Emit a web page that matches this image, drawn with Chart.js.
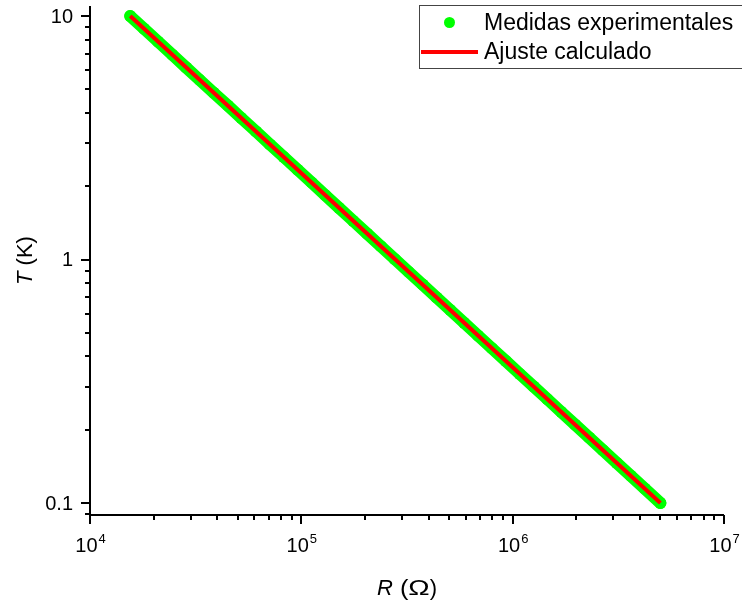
<!DOCTYPE html>
<html>
<head>
<meta charset="utf-8">
<script src="https://cdn.jsdelivr.net/npm/chart.js@4.4.1/dist/chart.umd.min.js"></script>
<style>
  html, body { margin: 0; padding: 0; background: #fff; overflow: hidden; }
  canvas { display: block; }
</style>
</head>
<body>
<canvas id="chart" width="742" height="608"></canvas>
<script>
// --- Data ---
const resistance = [15500, 18000, 21000, 24500, 28500, 33000, 38500, 45000, 52000, 61000,
  71000, 82500, 96000, 112000, 130000, 151000, 176000, 205000, 238000, 277000,
  322000, 375000, 436000, 507000, 590000, 686000, 798000, 928000, 1080000, 1256000,
  1460000, 1700000, 1977000, 2300000, 2675000, 3110000, 3620000, 4210000, 5000000];
const temperature = [10.0, 8.88, 7.85, 6.94, 6.15, 5.47, 4.84, 4.28, 3.81, 3.36,
  2.97, 2.64, 2.34, 2.07, 1.835, 1.628, 1.441, 1.276, 1.133, 1.004,
  0.890, 0.789, 0.699, 0.620, 0.549, 0.487, 0.432, 0.383, 0.339, 0.301,
  0.267, 0.2363, 0.2096, 0.1858, 0.1647, 0.1460, 0.1294, 0.1147, 0.100];
const fitResistance = [15500, 5000000];
const fitTemperature = [10.0, 0.100];

const seriesNames = ['Medidas experimentales', 'Ajuste calculado'];

const xMajorTicks = [1e4, 1e5, 1e6, 1e7];
const xExponents = ['4', '5', '6', '7'];
const xMinorTicks = [2e4, 3e4, 4e4, 5e4, 6e4, 7e4, 8e4, 9e4,
  2e5, 3e5, 4e5, 5e5, 6e5, 7e5, 8e5, 9e5,
  2e6, 3e6, 4e6, 5e6, 6e6, 7e6, 8e6, 9e6];
const yMajorTicks = [0.1, 1, 10];
const yTickLabels = ['0.1', '1', '10'];
const yMinorTicks = [0.09, 0.2, 0.3, 0.4, 0.5, 0.6, 0.7, 0.8, 0.9,
  2, 3, 4, 5, 6, 7, 8, 9];

const FONT = "'Liberation Sans', Arial, sans-serif";
const GREEN = '#00ff00';
const RED = '#ff0000';

// --- Axes, ticks, titles and legend drawn on top of the chart ---
const decorations = {
  id: 'decorations',
  afterDraw(chart) {
    const ctx = chart.ctx;
    const xs = chart.scales.x, ys = chart.scales.y;
    const area = chart.chartArea;
    ctx.save();
    ctx.strokeStyle = '#000';
    ctx.fillStyle = '#000';
    ctx.lineWidth = 2;

    // axis lines
    ctx.beginPath();
    ctx.moveTo(area.left, area.top);
    ctx.lineTo(area.left, area.bottom);
    ctx.lineTo(area.right, area.bottom);
    ctx.stroke();

    // tick marks (outward)
    const xTick = (v, len) => {
      const px = Math.round(xs.getPixelForValue(v));
      ctx.beginPath(); ctx.moveTo(px, area.bottom); ctx.lineTo(px, area.bottom + len); ctx.stroke();
    };
    const yTick = (v, len) => {
      const py = Math.round(ys.getPixelForValue(v));
      ctx.beginPath(); ctx.moveTo(area.left, py); ctx.lineTo(area.left - len, py); ctx.stroke();
    };
    xMajorTicks.forEach(v => xTick(v, 9));
    xMinorTicks.forEach(v => xTick(v, 5));
    yMajorTicks.forEach(v => yTick(v, 9));
    yMinorTicks.forEach(v => yTick(v, 5));

    // y tick labels
    ctx.font = `20px ${FONT}`;
    ctx.textAlign = 'right';
    ctx.textBaseline = 'middle';
    yMajorTicks.forEach((v, i) => ctx.fillText(yTickLabels[i], area.left - 17, ys.getPixelForValue(v) + 1));

    // x tick labels with superscript exponents
    ctx.textBaseline = 'alphabetic';
    ctx.textAlign = 'left';
    xMajorTicks.forEach((v, i) => {
      ctx.font = `20px ${FONT}`;
      const baseW = ctx.measureText('10').width;
      ctx.font = `13px ${FONT}`;
      const expW = ctx.measureText(xExponents[i]).width;
      const x0 = xs.getPixelForValue(v) - (baseW + expW) / 2;
      ctx.font = `20px ${FONT}`;
      ctx.fillText('10', x0, area.bottom + 37);
      ctx.font = `13px ${FONT}`;
      ctx.fillText(xExponents[i], x0 + baseW + 1, area.bottom + 28);
    });

    // axis titles: italic symbol + upright unit (pieces: [text, italic, xScale])
    const drawTitle = (pieces, cx, cy, rot) => {
      ctx.save();
      ctx.translate(cx, cy);
      ctx.rotate(rot);
      ctx.textAlign = 'left';
      ctx.textBaseline = 'alphabetic';
      const widths = pieces.map(([t, it, sx]) => {
        ctx.font = `${it ? 'italic ' : ''}22px ${FONT}`;
        return ctx.measureText(t).width * sx;
      });
      let x = -widths.reduce((a, b) => a + b, 0) / 2;
      pieces.forEach(([t, it, sx], i) => {
        ctx.font = `${it ? 'italic ' : ''}22px ${FONT}`;
        ctx.save();
        ctx.translate(x, 0);
        ctx.scale(sx, 1);
        ctx.fillText(t, 0, 0);
        ctx.restore();
        x += widths[i];
      });
      ctx.restore();
    };
    drawTitle([['R', true, 1], [' (', false, 1.15], ['\u03A9', false, 1.3], [')', false, 1]],
      (area.left + area.right) / 2, 595, 0);
    drawTitle([['T', true, 1], [' (K)', false, 1]], 32, (area.top + area.bottom) / 2, -Math.PI / 2);

    // legend box
    ctx.lineWidth = 1;
    ctx.strokeStyle = '#444';
    ctx.strokeRect(419.5, 5.5, 340, 63);
    ctx.fillStyle = GREEN;
    ctx.beginPath(); ctx.arc(449.5, 22.5, 5.5, 0, Math.PI * 2); ctx.fill();
    ctx.strokeStyle = RED;
    ctx.lineWidth = 4;
    ctx.beginPath(); ctx.moveTo(421, 52); ctx.lineTo(478, 52); ctx.stroke();
    ctx.fillStyle = '#000';
    ctx.font = `23px ${FONT}`;
    ctx.textAlign = 'left';
    ctx.fillText(seriesNames[0], 484, 30);
    ctx.fillText(seriesNames[1], 484, 59);
    ctx.restore();
  }
};

new Chart(document.getElementById('chart').getContext('2d'), {
  type: 'scatter',
  data: {
    datasets: [
      {
        label: seriesNames[0],
        data: resistance.map((r, i) => ({ x: r, y: temperature[i] })),
        showLine: true,
        borderColor: GREEN,
        borderWidth: 12,
        borderCapStyle: 'round',
        borderJoinStyle: 'round',
        pointRadius: 6,
        pointBorderWidth: 0,
        pointBackgroundColor: GREEN,
        order: 1
      },
      {
        label: seriesNames[1],
        data: fitResistance.map((r, i) => ({ x: r, y: fitTemperature[i] })),
        showLine: true,
        borderColor: RED,
        borderWidth: 4,
        pointRadius: 0,
        order: 0
      }
    ]
  },
  options: {
    responsive: false,
    animation: false,
    devicePixelRatio: 1,
    layout: { padding: { left: 90, right: 18, top: 5, bottom: 93 } },
    plugins: { legend: { display: false }, tooltip: { enabled: false } },
    scales: {
      x: {
        type: 'logarithmic', min: 1e4, max: 1e7,
        grid: { display: false, drawTicks: false },
        border: { display: false },
        ticks: { display: false }
      },
      y: {
        type: 'logarithmic', min: 0.0893, max: 11,
        grid: { display: false, drawTicks: false },
        border: { display: false },
        ticks: { display: false }
      }
    }
  },
  plugins: [decorations]
});
</script>
</body>
</html>
